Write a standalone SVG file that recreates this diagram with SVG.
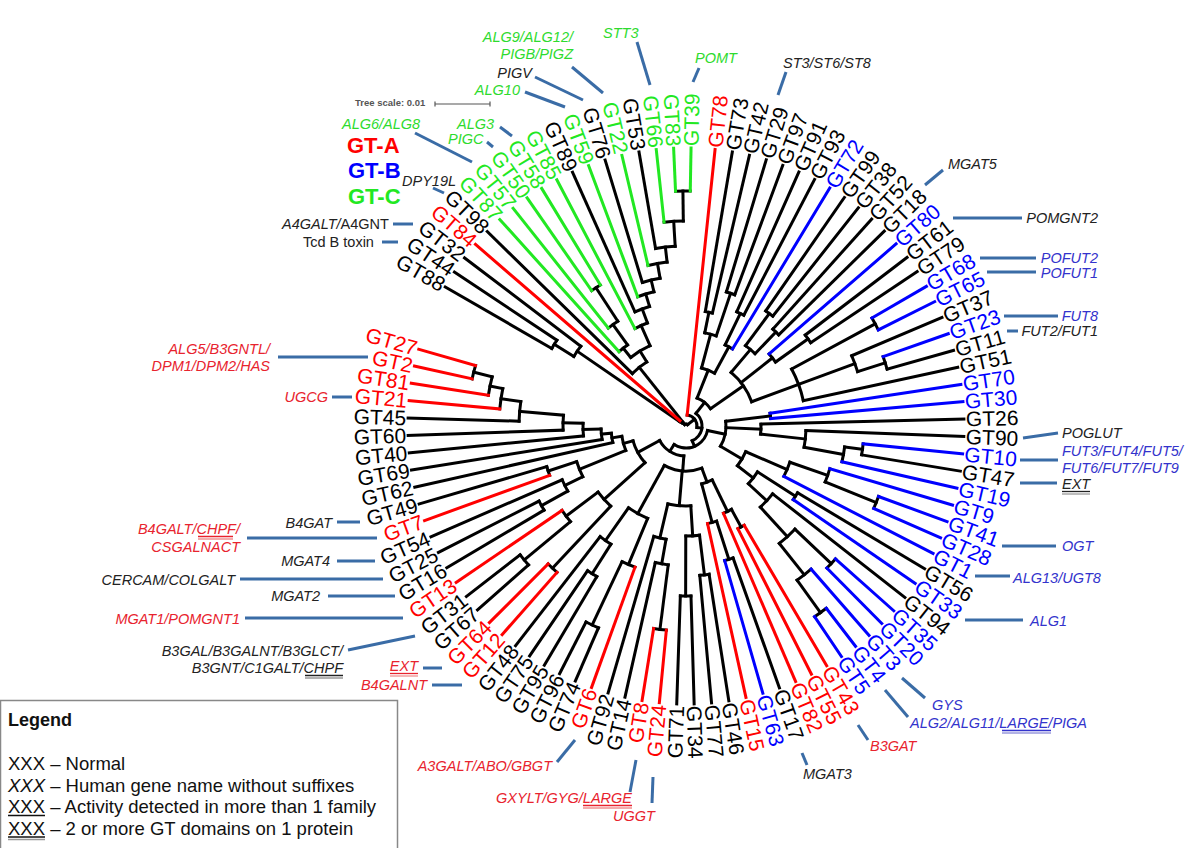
<svg xmlns="http://www.w3.org/2000/svg" width="1200" height="848" viewBox="0 0 1200 848">
<style>
.t line,.t circle{fill:none;stroke:#000;stroke-width:3;stroke-linecap:square}
.t .r{stroke:#f00}.t .b{stroke:#00f}.t .g{stroke:#22e822}
.lb{font-family:"Liberation Sans",Arial,sans-serif;font-size:21px}
.e{text-anchor:end}
.tr{fill:#f00}.tb{fill:#00f}.tg{fill:#22e822}
.gn{font-family:"Liberation Sans",Arial,sans-serif;font-size:14.5px;font-style:italic}
.cr{fill:#e8232e}.cb{fill:#3333cc}.cg{fill:#2edb2e}.ck{fill:#222}
.cn line{stroke:#3a6ca6;stroke-width:3}
.ul{stroke-width:1.3}
</style>
<rect width="1200" height="848" fill="#fff"/>
<g class="t" transform="translate(686,426)">
<g id="arcs">
<circle r="155" pathLength="360" stroke-dasharray="3.59 360" transform="rotate(210.01)"/>
<circle r="132" pathLength="360" stroke-dasharray="5.38 360" transform="rotate(211.81)"/>
<circle r="8" pathLength="360" stroke-dasharray="6.28 360" transform="rotate(214.5)"/>
<circle r="235" pathLength="360" stroke-dasharray="3.59 360" transform="rotate(267.45)"/>
<circle r="205" pathLength="360" stroke-dasharray="5.39 360" transform="rotate(263.86)"/>
<circle r="180" pathLength="360" stroke-dasharray="6.29 360" transform="rotate(260.27)"/>
<circle r="165" pathLength="360" stroke-dasharray="6.74 360" transform="rotate(256.68)"/>
<circle r="150" pathLength="360" stroke-dasharray="6.96 360" transform="rotate(253.09)"/>
<circle r="138" pathLength="360" stroke-dasharray="7.07 360" transform="rotate(249.5)"/>
<circle r="125" pathLength="360" stroke-dasharray="7.13 360" transform="rotate(245.91)"/>
<circle r="110" pathLength="360" stroke-dasharray="7.16 360" transform="rotate(242.32)"/>
<circle r="165" pathLength="360" stroke-dasharray="3.59 360" transform="rotate(235.14)"/>
<circle r="125" pathLength="360" stroke-dasharray="5.39 360" transform="rotate(231.55)"/>
<circle r="100" pathLength="360" stroke-dasharray="6.29 360" transform="rotate(227.96)"/>
<circle r="88" pathLength="360" stroke-dasharray="14.79 360" transform="rotate(231.11)"/>
<circle r="75" pathLength="360" stroke-dasharray="14.14 360" transform="rotate(224.37)"/>
<circle r="5" pathLength="360" stroke-dasharray="13.8 360" transform="rotate(217.64)"/>
<circle r="116" pathLength="360" stroke-dasharray="3.59 360" transform="rotate(279.59)"/>
<circle r="140" pathLength="360" stroke-dasharray="3.59 360" transform="rotate(286.77)"/>
<circle r="95" pathLength="360" stroke-dasharray="7.18 360" transform="rotate(281.39)"/>
<circle r="125" pathLength="360" stroke-dasharray="3.59 360" transform="rotate(293.95)"/>
<circle r="90" pathLength="360" stroke-dasharray="5.38 360" transform="rotate(295.75)"/>
<circle r="60" pathLength="360" stroke-dasharray="13.46 360" transform="rotate(284.98)"/>
<circle r="140" pathLength="360" stroke-dasharray="3.59 360" transform="rotate(304.72)"/>
<circle r="130" pathLength="360" stroke-dasharray="3.59 360" transform="rotate(311.9)"/>
<circle r="100" pathLength="360" stroke-dasharray="7.18 360" transform="rotate(306.52)"/>
<circle r="150" pathLength="360" stroke-dasharray="3.59 360" transform="rotate(322.67)"/>
<circle r="110" pathLength="360" stroke-dasharray="5.39 360" transform="rotate(319.08)"/>
<circle r="215" pathLength="360" stroke-dasharray="3.59 360" transform="rotate(329.85)"/>
<circle r="209" pathLength="360" stroke-dasharray="3.59 360" transform="rotate(340.62)"/>
<circle r="180" pathLength="360" stroke-dasharray="5.39 360" transform="rotate(337.03)"/>
<circle r="120" pathLength="360" stroke-dasharray="16.15 360" transform="rotate(331.65)"/>
<circle r="70" pathLength="360" stroke-dasharray="29.62 360" transform="rotate(310.11)"/>
<circle r="30" pathLength="360" stroke-dasharray="33.21 360" transform="rotate(291.71)"/>
<circle r="85" pathLength="360" stroke-dasharray="3.59 360" transform="rotate(351.39)"/>
<circle r="178" pathLength="360" stroke-dasharray="3.59 360" transform="rotate(365.75)"/>
<circle r="160" pathLength="360" stroke-dasharray="5.38 360" transform="rotate(367.55)"/>
<circle r="120" pathLength="360" stroke-dasharray="8.08 360" transform="rotate(362.16)"/>
<circle r="75" pathLength="360" stroke-dasharray="7.63 360" transform="rotate(358.57)"/>
<circle r="205" pathLength="360" stroke-dasharray="3.59 360" transform="rotate(380.11)"/>
<circle r="150" pathLength="360" stroke-dasharray="5.39 360" transform="rotate(376.52)"/>
<circle r="110" pathLength="360" stroke-dasharray="8.07 360" transform="rotate(379.22)"/>
<circle r="130" pathLength="360" stroke-dasharray="3.59 360" transform="rotate(390.88)"/>
<circle r="200" pathLength="360" stroke-dasharray="3.59 360" transform="rotate(401.65)"/>
<circle r="230" pathLength="360" stroke-dasharray="3.59 360" transform="rotate(412.42)"/>
<circle r="190" pathLength="360" stroke-dasharray="5.39 360" transform="rotate(408.83)"/>
<circle r="150" pathLength="360" stroke-dasharray="8.08 360" transform="rotate(403.45)"/>
<circle r="110" pathLength="360" stroke-dasharray="9.43 360" transform="rotate(398.06)"/>
<circle r="85" pathLength="360" stroke-dasharray="10.1 360" transform="rotate(392.68)"/>
<circle r="65" pathLength="360" stroke-dasharray="14.47 360" transform="rotate(383.26)"/>
<circle r="40" pathLength="360" stroke-dasharray="37.31 360" transform="rotate(353.19)"/>
<circle r="115" pathLength="360" stroke-dasharray="3.59 360" transform="rotate(419.6)"/>
<circle r="95" pathLength="360" stroke-dasharray="5.38 360" transform="rotate(421.4)"/>
<circle r="140" pathLength="360" stroke-dasharray="3.59 360" transform="rotate(430.37)"/>
<circle r="100" pathLength="360" stroke-dasharray="5.38 360" transform="rotate(432.17)"/>
<circle r="60" pathLength="360" stroke-dasharray="10.77 360" transform="rotate(424.09)"/>
<circle r="150" pathLength="360" stroke-dasharray="3.59 360" transform="rotate(441.14)"/>
<circle r="170" pathLength="360" stroke-dasharray="3.59 360" transform="rotate(448.32)"/>
<circle r="110" pathLength="360" stroke-dasharray="7.18 360" transform="rotate(442.94)"/>
<circle r="205" pathLength="360" stroke-dasharray="3.59 360" transform="rotate(455.5)"/>
<circle r="140" pathLength="360" stroke-dasharray="5.38 360" transform="rotate(457.3)"/>
<circle r="115" pathLength="360" stroke-dasharray="6.28 360" transform="rotate(459.99)"/>
<circle r="80" pathLength="360" stroke-dasharray="16.6 360" transform="rotate(446.53)"/>
<circle r="220" pathLength="360" stroke-dasharray="3.59 360" transform="rotate(473.45)"/>
<circle r="150" pathLength="360" stroke-dasharray="5.39 360" transform="rotate(469.86)"/>
<circle r="175" pathLength="360" stroke-dasharray="3.59 360" transform="rotate(480.63)"/>
<circle r="140" pathLength="360" stroke-dasharray="5.38 360" transform="rotate(482.43)"/>
<circle r="100" pathLength="360" stroke-dasharray="12.56 360" transform="rotate(472.56)"/>
<circle r="45" pathLength="360" stroke-dasharray="49.36 360" transform="rotate(429.48)"/>
<circle r="195" pathLength="360" stroke-dasharray="3.59 360" transform="rotate(491.4)"/>
<circle r="210" pathLength="360" stroke-dasharray="3.59 360" transform="rotate(498.58)"/>
<circle r="150" pathLength="360" stroke-dasharray="5.38 360" transform="rotate(500.38)"/>
<circle r="110" pathLength="360" stroke-dasharray="9.87 360" transform="rotate(493.2)"/>
<circle r="165" pathLength="360" stroke-dasharray="3.59 360" transform="rotate(509.35)"/>
<circle r="135" pathLength="360" stroke-dasharray="5.38 360" transform="rotate(511.15)"/>
<circle r="145" pathLength="360" stroke-dasharray="3.59 360" transform="rotate(520.12)"/>
<circle r="115" pathLength="360" stroke-dasharray="8.08 360" transform="rotate(513.84)"/>
<circle r="219" pathLength="360" stroke-dasharray="3.59 360" transform="rotate(552.43)"/>
<circle r="200" pathLength="360" stroke-dasharray="5.39 360" transform="rotate(548.84)"/>
<circle r="187" pathLength="360" stroke-dasharray="6.29 360" transform="rotate(545.25)"/>
<circle r="167" pathLength="360" stroke-dasharray="6.74 360" transform="rotate(541.66)"/>
<circle r="123" pathLength="360" stroke-dasharray="6.96 360" transform="rotate(538.07)"/>
<circle r="103" pathLength="360" stroke-dasharray="7.07 360" transform="rotate(534.48)"/>
<circle r="85" pathLength="360" stroke-dasharray="7.13 360" transform="rotate(530.89)"/>
<circle r="75" pathLength="360" stroke-dasharray="7.16 360" transform="rotate(527.3)"/>
<circle r="65" pathLength="360" stroke-dasharray="13 360" transform="rotate(517.88)"/>
<circle r="55" pathLength="360" stroke-dasharray="26.24 360" transform="rotate(498.14)"/>
<circle r="30" pathLength="360" stroke-dasharray="57.1 360" transform="rotate(454.16)"/>
<circle r="22" pathLength="360" stroke-dasharray="110.86 360" transform="rotate(371.85)"/>
<circle r="16" pathLength="360" stroke-dasharray="118.96 360" transform="rotate(308.32)"/>
<circle r="11" pathLength="360" stroke-dasharray="91.8 360" transform="rotate(276)"/>
<circle r="2" pathLength="360" stroke-dasharray="97.36 360" transform="rotate(224.54)"/>
</g>
<g id="internal-branches">
<line y1="-132" y2="-155" transform="rotate(301.81)"/>
<line y1="-8" y2="-132" transform="rotate(304.5)"/>
<line y1="-5" y2="-8" transform="rotate(307.64)"/>
<line y1="-205" y2="-235" transform="rotate(359.25)"/>
<line y1="-180" y2="-205" transform="rotate(356.56)"/>
<line y1="-165" y2="-180" transform="rotate(353.42)"/>
<line y1="-150" y2="-165" transform="rotate(350.05)"/>
<line y1="-138" y2="-150" transform="rotate(346.57)"/>
<line y1="-125" y2="-138" transform="rotate(343.04)"/>
<line y1="-110" y2="-125" transform="rotate(339.48)"/>
<line y1="-88" y2="-110" transform="rotate(335.9)"/>
<line y1="-125" y2="-165" transform="rotate(326.94)"/>
<line y1="-100" y2="-125" transform="rotate(324.25)"/>
<line y1="-88" y2="-100" transform="rotate(321.11)"/>
<line y1="-75" y2="-88" transform="rotate(328.51)"/>
<line y1="-5" y2="-75" transform="rotate(321.44)"/>
<line y1="-2" y2="-5" transform="rotate(314.54)"/>
<line y1="-95" y2="-116" transform="rotate(371.39)"/>
<line y1="-95" y2="-140" transform="rotate(378.57)"/>
<line y1="-60" y2="-95" transform="rotate(374.98)"/>
<line y1="-90" y2="-125" transform="rotate(385.75)"/>
<line y1="-60" y2="-90" transform="rotate(388.44)"/>
<line y1="-30" y2="-60" transform="rotate(381.71)"/>
<line y1="-100" y2="-140" transform="rotate(396.52)"/>
<line y1="-100" y2="-130" transform="rotate(403.7)"/>
<line y1="-70" y2="-100" transform="rotate(400.11)"/>
<line y1="-110" y2="-150" transform="rotate(414.47)"/>
<line y1="-70" y2="-110" transform="rotate(411.78)"/>
<line y1="-120" y2="-215" transform="rotate(421.65)"/>
<line y1="-180" y2="-209" transform="rotate(432.42)"/>
<line y1="-120" y2="-180" transform="rotate(429.73)"/>
<line y1="-70" y2="-120" transform="rotate(429.73)"/>
<line y1="-30" y2="-70" transform="rotate(414.92)"/>
<line y1="-16" y2="-30" transform="rotate(398.32)"/>
<line y1="-40" y2="-85" transform="rotate(443.19)"/>
<line y1="-160" y2="-178" transform="rotate(457.55)"/>
<line y1="-120" y2="-160" transform="rotate(460.24)"/>
<line y1="-75" y2="-120" transform="rotate(456.2)"/>
<line y1="-40" y2="-75" transform="rotate(452.39)"/>
<line y1="-150" y2="-205" transform="rotate(471.91)"/>
<line y1="-110" y2="-150" transform="rotate(469.22)"/>
<line y1="-65" y2="-110" transform="rotate(473.26)"/>
<line y1="-85" y2="-130" transform="rotate(482.68)"/>
<line y1="-150" y2="-200" transform="rotate(493.45)"/>
<line y1="-190" y2="-230" transform="rotate(504.22)"/>
<line y1="-150" y2="-190" transform="rotate(501.53)"/>
<line y1="-110" y2="-150" transform="rotate(497.49)"/>
<line y1="-85" y2="-110" transform="rotate(492.78)"/>
<line y1="-65" y2="-85" transform="rotate(487.73)"/>
<line y1="-40" y2="-65" transform="rotate(480.5)"/>
<line y1="-22" y2="-40" transform="rotate(461.85)"/>
<line y1="-95" y2="-115" transform="rotate(511.4)"/>
<line y1="-60" y2="-95" transform="rotate(514.09)"/>
<line y1="-100" y2="-140" transform="rotate(522.17)"/>
<line y1="-60" y2="-100" transform="rotate(524.86)"/>
<line y1="-45" y2="-60" transform="rotate(519.48)"/>
<line y1="-110" y2="-150" transform="rotate(532.94)"/>
<line y1="-110" y2="-170" transform="rotate(540.12)"/>
<line y1="-80" y2="-110" transform="rotate(536.53)"/>
<line y1="-140" y2="-205" transform="rotate(547.3)"/>
<line y1="-115" y2="-140" transform="rotate(549.99)"/>
<line y1="-80" y2="-115" transform="rotate(553.13)"/>
<line y1="-45" y2="-80" transform="rotate(544.83)"/>
<line y1="-150" y2="-220" transform="rotate(565.25)"/>
<line y1="-100" y2="-150" transform="rotate(562.56)"/>
<line y1="-140" y2="-175" transform="rotate(572.43)"/>
<line y1="-100" y2="-140" transform="rotate(575.12)"/>
<line y1="-45" y2="-100" transform="rotate(568.84)"/>
<line y1="-30" y2="-45" transform="rotate(544.16)"/>
<line y1="-110" y2="-195" transform="rotate(583.2)"/>
<line y1="-150" y2="-210" transform="rotate(590.38)"/>
<line y1="-110" y2="-150" transform="rotate(593.07)"/>
<line y1="-55" y2="-110" transform="rotate(588.14)"/>
<line y1="-135" y2="-165" transform="rotate(601.15)"/>
<line y1="-115" y2="-135" transform="rotate(603.84)"/>
<line y1="-115" y2="-145" transform="rotate(611.92)"/>
<line y1="-65" y2="-115" transform="rotate(607.88)"/>
<line y1="-200" y2="-219" transform="rotate(644.23)"/>
<line y1="-187" y2="-200" transform="rotate(641.54)"/>
<line y1="-167" y2="-187" transform="rotate(638.4)"/>
<line y1="-123" y2="-167" transform="rotate(635.03)"/>
<line y1="-103" y2="-123" transform="rotate(631.55)"/>
<line y1="-85" y2="-103" transform="rotate(628.02)"/>
<line y1="-75" y2="-85" transform="rotate(624.46)"/>
<line y1="-65" y2="-75" transform="rotate(620.88)"/>
<line y1="-55" y2="-65" transform="rotate(614.38)"/>
<line y1="-30" y2="-55" transform="rotate(601.26)"/>
<line y1="-22" y2="-30" transform="rotate(572.71)"/>
<line y1="-16" y2="-22" transform="rotate(517.28)"/>
<line y1="-11" y2="-16" transform="rotate(457.8)"/>
<line y1="-2" y2="-11" transform="rotate(411.9)"/>
</g>
<g id="leaf-branches">
<line y1="-155" y2="-278" transform="rotate(300.01)"/>
<line y1="-155" y2="-278" transform="rotate(303.6)"/>
<line y1="-132" y2="-278" transform="rotate(307.19)"/>
<line class="r" y1="-8" y2="-278" transform="rotate(310.78)"/>
<line y1="-75" y2="-278" transform="rotate(314.37)"/>
<line class="g" y1="-100" y2="-278" transform="rotate(317.96)"/>
<line class="g" y1="-125" y2="-278" transform="rotate(321.55)"/>
<line class="g" y1="-165" y2="-278" transform="rotate(325.14)"/>
<line class="g" y1="-165" y2="-278" transform="rotate(328.73)"/>
<line class="g" y1="-110" y2="-278" transform="rotate(332.32)"/>
<line y1="-125" y2="-278" transform="rotate(335.91)"/>
<line class="g" y1="-138" y2="-278" transform="rotate(339.5)"/>
<line y1="-150" y2="-278" transform="rotate(343.09)"/>
<line class="g" y1="-165" y2="-278" transform="rotate(346.68)"/>
<line y1="-180" y2="-278" transform="rotate(350.27)"/>
<line class="g" y1="-205" y2="-278" transform="rotate(353.86)"/>
<line class="g" y1="-235" y2="-278" transform="rotate(357.45)"/>
<line class="g" y1="-235" y2="-278" transform="rotate(361.04)"/>
<line class="r" y1="-11" y2="-278" transform="rotate(366)"/>
<line y1="-116" y2="-278" transform="rotate(369.59)"/>
<line y1="-116" y2="-278" transform="rotate(373.18)"/>
<line y1="-140" y2="-278" transform="rotate(376.77)"/>
<line y1="-140" y2="-278" transform="rotate(380.36)"/>
<line y1="-125" y2="-278" transform="rotate(383.95)"/>
<line y1="-125" y2="-278" transform="rotate(387.54)"/>
<line class="b" y1="-90" y2="-278" transform="rotate(391.13)"/>
<line y1="-140" y2="-278" transform="rotate(394.72)"/>
<line y1="-140" y2="-278" transform="rotate(398.31)"/>
<line y1="-130" y2="-278" transform="rotate(401.9)"/>
<line y1="-130" y2="-278" transform="rotate(405.49)"/>
<line class="b" y1="-110" y2="-278" transform="rotate(409.08)"/>
<line y1="-150" y2="-278" transform="rotate(412.67)"/>
<line y1="-150" y2="-278" transform="rotate(416.26)"/>
<line class="b" y1="-215" y2="-278" transform="rotate(419.85)"/>
<line class="b" y1="-215" y2="-278" transform="rotate(423.44)"/>
<line y1="-180" y2="-278" transform="rotate(427.03)"/>
<line class="b" y1="-209" y2="-278" transform="rotate(430.62)"/>
<line y1="-209" y2="-278" transform="rotate(434.21)"/>
<line y1="-120" y2="-278" transform="rotate(437.8)"/>
<line class="b" y1="-85" y2="-278" transform="rotate(441.39)"/>
<line class="b" y1="-85" y2="-278" transform="rotate(444.98)"/>
<line y1="-75" y2="-278" transform="rotate(448.57)"/>
<line y1="-120" y2="-278" transform="rotate(452.16)"/>
<line class="b" y1="-178" y2="-278" transform="rotate(455.75)"/>
<line y1="-178" y2="-278" transform="rotate(459.34)"/>
<line class="b" y1="-160" y2="-278" transform="rotate(462.93)"/>
<line class="b" y1="-150" y2="-278" transform="rotate(466.52)"/>
<line class="b" y1="-205" y2="-278" transform="rotate(470.11)"/>
<line class="b" y1="-205" y2="-278" transform="rotate(473.7)"/>
<line class="b" y1="-110" y2="-278" transform="rotate(477.29)"/>
<line y1="-130" y2="-278" transform="rotate(480.88)"/>
<line class="b" y1="-130" y2="-278" transform="rotate(484.47)"/>
<line y1="-110" y2="-278" transform="rotate(488.06)"/>
<line class="b" y1="-200" y2="-278" transform="rotate(491.65)"/>
<line class="b" y1="-200" y2="-278" transform="rotate(495.24)"/>
<line class="b" y1="-190" y2="-278" transform="rotate(498.83)"/>
<line class="b" y1="-230" y2="-278" transform="rotate(502.42)"/>
<line class="b" y1="-230" y2="-278" transform="rotate(506.01)"/>
<line class="r" y1="-115" y2="-278" transform="rotate(509.6)"/>
<line class="r" y1="-115" y2="-278" transform="rotate(513.19)"/>
<line class="r" y1="-95" y2="-278" transform="rotate(516.78)"/>
<line y1="-140" y2="-278" transform="rotate(520.37)"/>
<line class="b" y1="-140" y2="-278" transform="rotate(523.96)"/>
<line class="r" y1="-100" y2="-278" transform="rotate(527.55)"/>
<line y1="-150" y2="-278" transform="rotate(531.14)"/>
<line y1="-150" y2="-278" transform="rotate(534.73)"/>
<line y1="-170" y2="-278" transform="rotate(538.32)"/>
<line y1="-170" y2="-278" transform="rotate(541.91)"/>
<line class="r" y1="-205" y2="-278" transform="rotate(545.5)"/>
<line class="r" y1="-205" y2="-278" transform="rotate(549.09)"/>
<line y1="-140" y2="-278" transform="rotate(552.68)"/>
<line y1="-115" y2="-278" transform="rotate(556.27)"/>
<line class="r" y1="-150" y2="-278" transform="rotate(559.86)"/>
<line y1="-220" y2="-278" transform="rotate(563.45)"/>
<line y1="-220" y2="-278" transform="rotate(567.04)"/>
<line y1="-175" y2="-278" transform="rotate(570.63)"/>
<line y1="-175" y2="-278" transform="rotate(574.22)"/>
<line y1="-140" y2="-278" transform="rotate(577.81)"/>
<line class="r" y1="-195" y2="-278" transform="rotate(581.4)"/>
<line class="r" y1="-195" y2="-278" transform="rotate(584.99)"/>
<line y1="-210" y2="-278" transform="rotate(588.58)"/>
<line y1="-210" y2="-278" transform="rotate(592.17)"/>
<line class="r" y1="-150" y2="-278" transform="rotate(595.76)"/>
<line y1="-165" y2="-278" transform="rotate(599.35)"/>
<line y1="-165" y2="-278" transform="rotate(602.94)"/>
<line y1="-135" y2="-278" transform="rotate(606.53)"/>
<line class="r" y1="-145" y2="-278" transform="rotate(610.12)"/>
<line y1="-145" y2="-278" transform="rotate(613.71)"/>
<line y1="-75" y2="-278" transform="rotate(617.3)"/>
<line y1="-85" y2="-278" transform="rotate(620.89)"/>
<line y1="-103" y2="-278" transform="rotate(624.48)"/>
<line y1="-123" y2="-278" transform="rotate(628.07)"/>
<line y1="-167" y2="-278" transform="rotate(631.66)"/>
<line class="r" y1="-187" y2="-278" transform="rotate(635.25)"/>
<line class="r" y1="-200" y2="-278" transform="rotate(638.84)"/>
<line class="r" y1="-219" y2="-278" transform="rotate(642.43)"/>
<line class="r" y1="-219" y2="-278" transform="rotate(646.02)"/>
</g>
<g id="leaf-labels" class="lb">
<text id="GT88" class="e" x="-280" dy=".35em" transform="rotate(30.01)">GT88</text>
<text id="GT44" class="e" x="-280" dy=".35em" transform="rotate(33.6)">GT44</text>
<text id="GT32" class="e" x="-280" dy=".35em" transform="rotate(37.19)">GT32</text>
<text id="GT84" class="e tr" x="-280" dy=".35em" transform="rotate(40.78)">GT84</text>
<text id="GT98" class="e" x="-280" dy=".35em" transform="rotate(44.37)">GT98</text>
<text id="GT87" class="e tg" x="-280" dy=".35em" transform="rotate(47.96)">GT87</text>
<text id="GT57" class="e tg" x="-280" dy=".35em" transform="rotate(51.55)">GT57</text>
<text id="GT50" class="e tg" x="-280" dy=".35em" transform="rotate(55.14)">GT50</text>
<text id="GT58" class="e tg" x="-280" dy=".35em" transform="rotate(58.73)">GT58</text>
<text id="GT85" class="e tg" x="-280" dy=".35em" transform="rotate(62.32)">GT85</text>
<text id="GT89" class="e" x="-280" dy=".35em" transform="rotate(65.91)">GT89</text>
<text id="GT59" class="e tg" x="-280" dy=".35em" transform="rotate(69.5)">GT59</text>
<text id="GT76" class="e" x="-280" dy=".35em" transform="rotate(73.09)">GT76</text>
<text id="GT22" class="e tg" x="-280" dy=".35em" transform="rotate(76.68)">GT22</text>
<text id="GT53" class="e" x="-280" dy=".35em" transform="rotate(80.27)">GT53</text>
<text id="GT66" class="e tg" x="-280" dy=".35em" transform="rotate(83.86)">GT66</text>
<text id="GT83" class="e tg" x="-280" dy=".35em" transform="rotate(87.45)">GT83</text>
<text id="GT39" class="tg" x="280" dy=".35em" transform="rotate(271.04)">GT39</text>
<text id="GT78" class="tr" x="280" dy=".35em" transform="rotate(276)">GT78</text>
<text id="GT73" x="280" dy=".35em" transform="rotate(279.59)">GT73</text>
<text id="GT42" x="280" dy=".35em" transform="rotate(283.18)">GT42</text>
<text id="GT29" x="280" dy=".35em" transform="rotate(286.77)">GT29</text>
<text id="GT97" x="280" dy=".35em" transform="rotate(290.36)">GT97</text>
<text id="GT91" x="280" dy=".35em" transform="rotate(293.95)">GT91</text>
<text id="GT93" x="280" dy=".35em" transform="rotate(297.54)">GT93</text>
<text id="GT72" class="tb" x="280" dy=".35em" transform="rotate(301.13)">GT72</text>
<text id="GT99" x="280" dy=".35em" transform="rotate(304.72)">GT99</text>
<text id="GT38" x="280" dy=".35em" transform="rotate(308.31)">GT38</text>
<text id="GT52" x="280" dy=".35em" transform="rotate(311.9)">GT52</text>
<text id="GT18" x="280" dy=".35em" transform="rotate(315.49)">GT18</text>
<text id="GT80" class="tb" x="280" dy=".35em" transform="rotate(319.08)">GT80</text>
<text id="GT61" x="280" dy=".35em" transform="rotate(322.67)">GT61</text>
<text id="GT79" x="280" dy=".35em" transform="rotate(326.26)">GT79</text>
<text id="GT68" class="tb" x="280" dy=".35em" transform="rotate(329.85)">GT68</text>
<text id="GT65" class="tb" x="280" dy=".35em" transform="rotate(333.44)">GT65</text>
<text id="GT37" x="280" dy=".35em" transform="rotate(337.03)">GT37</text>
<text id="GT23" class="tb" x="280" dy=".35em" transform="rotate(340.62)">GT23</text>
<text id="GT11" x="280" dy=".35em" transform="rotate(344.21)">GT11</text>
<text id="GT51" x="280" dy=".35em" transform="rotate(347.8)">GT51</text>
<text id="GT70" class="tb" x="280" dy=".35em" transform="rotate(351.39)">GT70</text>
<text id="GT30" class="tb" x="280" dy=".35em" transform="rotate(354.98)">GT30</text>
<text id="GT26" x="280" dy=".35em" transform="rotate(358.57)">GT26</text>
<text id="GT90" x="280" dy=".35em" transform="rotate(2.16)">GT90</text>
<text id="GT10" class="tb" x="280" dy=".35em" transform="rotate(5.75)">GT10</text>
<text id="GT47" x="280" dy=".35em" transform="rotate(9.34)">GT47</text>
<text id="GT19" class="tb" x="280" dy=".35em" transform="rotate(12.93)">GT19</text>
<text id="GT9" class="tb" x="280" dy=".35em" transform="rotate(16.52)">GT9</text>
<text id="GT41" class="tb" x="280" dy=".35em" transform="rotate(20.11)">GT41</text>
<text id="GT28" class="tb" x="280" dy=".35em" transform="rotate(23.7)">GT28</text>
<text id="GT1" class="tb" x="280" dy=".35em" transform="rotate(27.29)">GT1</text>
<text id="GT56" x="280" dy=".35em" transform="rotate(30.88)">GT56</text>
<text id="GT33" class="tb" x="280" dy=".35em" transform="rotate(34.47)">GT33</text>
<text id="GT94" x="280" dy=".35em" transform="rotate(38.06)">GT94</text>
<text id="GT35" class="tb" x="280" dy=".35em" transform="rotate(41.65)">GT35</text>
<text id="GT20" class="tb" x="280" dy=".35em" transform="rotate(45.24)">GT20</text>
<text id="GT3" class="tb" x="280" dy=".35em" transform="rotate(48.83)">GT3</text>
<text id="GT4" class="tb" x="280" dy=".35em" transform="rotate(52.42)">GT4</text>
<text id="GT5" class="tb" x="280" dy=".35em" transform="rotate(56.01)">GT5</text>
<text id="GT43" class="tr" x="280" dy=".35em" transform="rotate(59.6)">GT43</text>
<text id="GT55" class="tr" x="280" dy=".35em" transform="rotate(63.19)">GT55</text>
<text id="GT82" class="tr" x="280" dy=".35em" transform="rotate(66.78)">GT82</text>
<text id="GT17" x="280" dy=".35em" transform="rotate(70.37)">GT17</text>
<text id="GT63" class="tb" x="280" dy=".35em" transform="rotate(73.96)">GT63</text>
<text id="GT15" class="tr" x="280" dy=".35em" transform="rotate(77.55)">GT15</text>
<text id="GT46" x="280" dy=".35em" transform="rotate(81.14)">GT46</text>
<text id="GT77" x="280" dy=".35em" transform="rotate(84.73)">GT77</text>
<text id="GT34" x="280" dy=".35em" transform="rotate(88.32)">GT34</text>
<text id="GT71" class="e" x="-280" dy=".35em" transform="rotate(271.91)">GT71</text>
<text id="GT24" class="e tr" x="-280" dy=".35em" transform="rotate(275.5)">GT24</text>
<text id="GT8" class="e tr" x="-280" dy=".35em" transform="rotate(279.09)">GT8</text>
<text id="GT14" class="e" x="-280" dy=".35em" transform="rotate(282.68)">GT14</text>
<text id="GT92" class="e" x="-280" dy=".35em" transform="rotate(286.27)">GT92</text>
<text id="GT6" class="e tr" x="-280" dy=".35em" transform="rotate(289.86)">GT6</text>
<text id="GT74" class="e" x="-280" dy=".35em" transform="rotate(293.45)">GT74</text>
<text id="GT96" class="e" x="-280" dy=".35em" transform="rotate(297.04)">GT96</text>
<text id="GT95" class="e" x="-280" dy=".35em" transform="rotate(300.63)">GT95</text>
<text id="GT75" class="e" x="-280" dy=".35em" transform="rotate(304.22)">GT75</text>
<text id="GT48" class="e" x="-280" dy=".35em" transform="rotate(307.81)">GT48</text>
<text id="GT12" class="e tr" x="-280" dy=".35em" transform="rotate(311.4)">GT12</text>
<text id="GT64" class="e tr" x="-280" dy=".35em" transform="rotate(314.99)">GT64</text>
<text id="GT67" class="e" x="-280" dy=".35em" transform="rotate(318.58)">GT67</text>
<text id="GT31" class="e" x="-280" dy=".35em" transform="rotate(322.17)">GT31</text>
<text id="GT13" class="e tr" x="-280" dy=".35em" transform="rotate(325.76)">GT13</text>
<text id="GT16" class="e" x="-280" dy=".35em" transform="rotate(329.35)">GT16</text>
<text id="GT25" class="e" x="-280" dy=".35em" transform="rotate(332.94)">GT25</text>
<text id="GT54" class="e" x="-280" dy=".35em" transform="rotate(336.53)">GT54</text>
<text id="GT7" class="e tr" x="-280" dy=".35em" transform="rotate(340.12)">GT7</text>
<text id="GT49" class="e" x="-280" dy=".35em" transform="rotate(343.71)">GT49</text>
<text id="GT62" class="e" x="-280" dy=".35em" transform="rotate(347.3)">GT62</text>
<text id="GT69" class="e" x="-280" dy=".35em" transform="rotate(350.89)">GT69</text>
<text id="GT40" class="e" x="-280" dy=".35em" transform="rotate(354.48)">GT40</text>
<text id="GT60" class="e" x="-280" dy=".35em" transform="rotate(358.07)">GT60</text>
<text id="GT45" class="e" x="-280" dy=".35em" transform="rotate(1.66)">GT45</text>
<text id="GT21" class="e tr" x="-280" dy=".35em" transform="rotate(5.25)">GT21</text>
<text id="GT81" class="e tr" x="-280" dy=".35em" transform="rotate(8.84)">GT81</text>
<text id="GT2" class="e tr" x="-280" dy=".35em" transform="rotate(12.43)">GT2</text>
<text id="GT27" class="e tr" x="-280" dy=".35em" transform="rotate(16.02)">GT27</text>
</g>
</g>
<g id="connectors" class="cn">
<line x1="415" y1="133" x2="472" y2="162"/>
<line x1="500" y1="127" x2="512" y2="136"/>
<line x1="487" y1="142" x2="493" y2="147"/>
<line x1="433" y1="188" x2="444" y2="193"/>
<line x1="393" y1="224" x2="413" y2="224"/>
<line x1="382" y1="242" x2="398" y2="242"/>
<line x1="572" y1="67" x2="603" y2="93"/>
<line x1="535" y1="77" x2="583" y2="100"/>
<line x1="525" y1="92" x2="565" y2="107"/>
<line x1="637" y1="42" x2="650" y2="85"/>
<line x1="699" y1="68" x2="693" y2="82"/>
<line x1="786" y1="72" x2="778" y2="95"/>
<line x1="943" y1="170" x2="925" y2="185"/>
<line x1="953" y1="218" x2="1022" y2="218"/>
<line x1="980" y1="258" x2="1036" y2="258"/>
<line x1="987" y1="272" x2="1036" y2="272"/>
<line x1="1004" y1="316" x2="1058" y2="316"/>
<line x1="1007" y1="331" x2="1018" y2="331"/>
<line x1="1023" y1="438" x2="1058" y2="433"/>
<line x1="1020" y1="460" x2="1058" y2="460"/>
<line x1="1020" y1="483" x2="1057" y2="483"/>
<line x1="1002" y1="546" x2="1056" y2="546"/>
<line x1="975" y1="576" x2="1010" y2="576"/>
<line x1="965" y1="620" x2="1023" y2="620"/>
<line x1="902" y1="678" x2="925" y2="698"/>
<line x1="885" y1="690" x2="908" y2="717"/>
<line x1="858" y1="725" x2="868" y2="740"/>
<line x1="802" y1="753" x2="807" y2="765"/>
<line x1="653" y1="777" x2="652" y2="803"/>
<line x1="636" y1="760" x2="630" y2="792"/>
<line x1="557" y1="762" x2="575" y2="740"/>
<line x1="432" y1="685" x2="462" y2="685"/>
<line x1="423" y1="668" x2="442" y2="668"/>
<line x1="348" y1="650" x2="415" y2="636"/>
<line x1="245" y1="618" x2="403" y2="618"/>
<line x1="328" y1="596" x2="395" y2="596"/>
<line x1="240" y1="579" x2="383" y2="579"/>
<line x1="337" y1="561" x2="375" y2="561"/>
<line x1="247" y1="538" x2="377" y2="538"/>
<line x1="337" y1="522" x2="360" y2="522"/>
<line x1="332" y1="397" x2="352" y2="397"/>
<line x1="278" y1="357" x2="368" y2="357"/>
</g>
<g id="gene-labels" class="gn">
<text class="cg" x="342" y="129">ALG6/ALG8</text>
<text class="cg" x="457" y="129">ALG3</text>
<text class="cg" x="448" y="144">PIGC</text>
<text class="ck" x="402" y="186">DPY19L</text>
<text class="ck" x="282" y="229">A4GALT/<tspan font-style="normal">A4GNT</tspan></text>
<text class="ck" x="303" y="247" font-style="normal">Tcd B toxin</text>
<text class="cg e" x="573" y="42">ALG9/ALG12/</text>
<text class="cg e" x="573" y="59">PIGB/PIGZ</text>
<text class="ck e" x="532" y="78">PIGV</text>
<text class="cg e" x="520" y="95">ALG10</text>
<text class="cg" x="603" y="38">STT3</text>
<text class="cg" x="695" y="63">POMT</text>
<text class="ck" x="783" y="68">ST3/ST6/ST8</text>
<text class="ck" x="948" y="169">MGAT5</text>
<text class="ck e" x="1098" y="223">POMGNT2</text>
<text class="cb e" x="1098" y="263">POFUT2</text>
<text class="cb e" x="1098" y="278">POFUT1</text>
<text class="cb e" x="1098" y="321">FUT8</text>
<text class="ck e" x="1098" y="336">FUT2/FUT1</text>
<text class="ck" x="1062" y="438">POGLUT</text>
<text class="cb" x="1062" y="456">FUT3/FUT4/FUT5/</text>
<text class="cb" x="1062" y="473">FUT6/FUT7/FUT9</text>
<text class="ck" x="1062" y="489">EXT</text>
<text class="cb" x="1062" y="551">OGT</text>
<text class="cb" x="1013" y="583">ALG13/UGT8</text>
<text class="cb" x="1030" y="626">ALG1</text>
<text class="cb" x="932" y="710">GYS</text>
<text class="cb" x="910" y="728">ALG2/ALG11/LARGE/PIGA</text>
<text class="cr" x="870" y="751">B3GAT</text>
<text class="ck" x="803" y="779">MGAT3</text>
<text class="cr" x="613" y="821">UGGT</text>
<text class="cr e" x="632" y="803">GXYLT/GYG/LARGE</text>
<text class="cr e" x="552" y="771">A3GALT/ABO/GBGT</text>
<text class="cr e" x="427" y="690">B4GALNT</text>
<text class="cr e" x="418" y="671">EXT</text>
<text class="ck e" x="343" y="656">B3GAL/B3GALNT/B3GLCT/</text>
<text class="ck e" x="343" y="673">B3GNT/C1GALT/CHPF</text>
<text class="cr e" x="240" y="624">MGAT1/POMGNT1</text>
<text class="ck e" x="320" y="601">MGAT2</text>
<text class="ck e" x="235" y="585">CERCAM/COLGALT</text>
<text class="ck e" x="330" y="566">MGAT4</text>
<text class="cr e" x="240" y="534">B4GALT/CHPF/</text>
<text class="cr e" x="240" y="552">CSGALNACT</text>
<text class="ck e" x="332" y="528">B4GAT</text>
<text class="cr e" x="328" y="402">UGCG</text>
<text class="cr e" x="270" y="354">ALG5/B3GNTL/</text>
<text class="cr e" x="270" y="371">DPM1/DPM2/HAS</text>
</g>
<g id="underlines" class="ul">
<line x1="1062" y1="491.5" x2="1090" y2="491.5" stroke="#222"/>
<line x1="1062" y1="494" x2="1090" y2="494" stroke="#999"/>
<line x1="1002" y1="730.5" x2="1051" y2="730.5" stroke="#3333cc"/>
<line x1="1002" y1="733" x2="1051" y2="733" stroke="#9999dd"/>
<line x1="583" y1="805.5" x2="632" y2="805.5" stroke="#e8232e"/>
<line x1="583" y1="808" x2="632" y2="808" stroke="#f09090"/>
<line x1="390" y1="673.5" x2="418" y2="673.5" stroke="#e8232e"/>
<line x1="390" y1="676" x2="418" y2="676" stroke="#f09090"/>
<line x1="305" y1="675.5" x2="343" y2="675.5" stroke="#222"/>
<line x1="305" y1="678" x2="343" y2="678" stroke="#999"/>
<line x1="198" y1="536.5" x2="233" y2="536.5" stroke="#e8232e"/>
<line x1="198" y1="539" x2="233" y2="539" stroke="#f09090"/>
</g>
<g id="group-key" font-family="Liberation Sans,Arial,sans-serif" font-weight="bold" font-size="22">
<text x="347" y="153" fill="#f00">GT-A</text>
<text x="348" y="178" fill="#00f">GT-B</text>
<text x="348" y="204" fill="#22e822">GT-C</text>
</g>
<g id="tree-scale">
<text x="355" y="106" font-family="Liberation Sans,Arial,sans-serif" font-weight="bold" font-size="9.5" fill="#555">Tree scale: 0.01</text>
<path d="M435 104H490M435 101.5V106.5M490 101.5V106.5" stroke="#555" stroke-width="1.2" fill="none"/>
</g>
<g id="legend" font-family="Liberation Sans,Arial,sans-serif" font-size="18.5" fill="#111">
<rect x="0.5" y="700.5" width="397" height="160" fill="#fff" stroke="#888" stroke-width="1.5"/>
<text x="8" y="726" font-weight="bold" font-size="18">Legend</text>
<text x="8" y="770">XXX – Normal</text>
<text x="8" y="792"><tspan font-style="italic">XXX</tspan> – Human gene name without suffixes</text>
<text x="8" y="813">XXX – Activity detected in more than 1 family</text>
<text x="8" y="835">XXX – 2 or more GT domains on 1 protein</text>
<line x1="8" y1="815.5" x2="45" y2="815.5" stroke="#111" stroke-width="1.3"/>
<line x1="8" y1="837" x2="45" y2="837" stroke="#111" stroke-width="1.3"/>
<line x1="8" y1="839.5" x2="45" y2="839.5" stroke="#999" stroke-width="1.3"/>
</g>
</svg>
